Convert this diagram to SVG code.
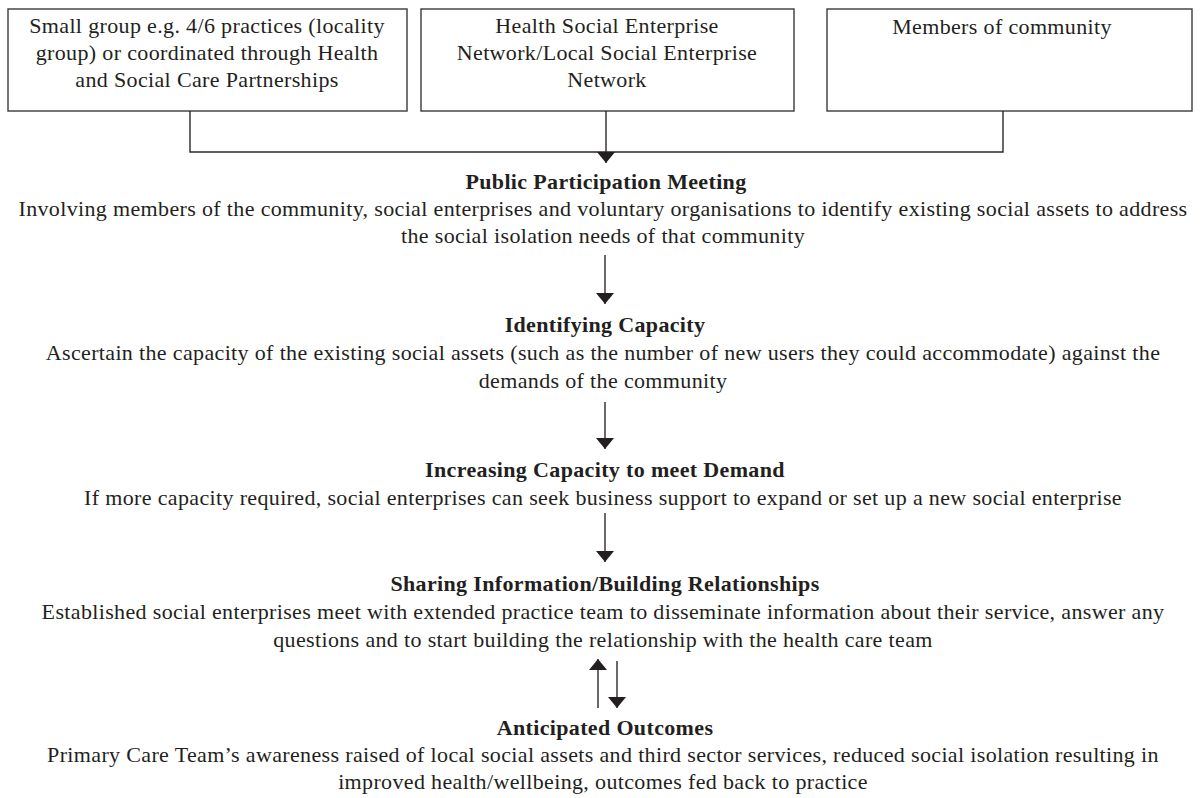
<svg xmlns="http://www.w3.org/2000/svg" width="1200" height="798" viewBox="0 0 1200 798">
  <style>
    .box { fill: #ffffff; stroke: #3a3a3a; stroke-width: 1.4; }
    .txt { font-family: "Liberation Serif", "Times New Roman", serif; font-size: 22px; letter-spacing: 0.35px; fill: #231f20; text-anchor: middle; }
    .hd { font-weight: bold; }
    .ln { fill: none; stroke: #2a2a2a; stroke-width: 1.4; }
  </style>
  <defs>
    <marker id="head" viewBox="0 0 11 18" refX="11" refY="9" markerWidth="11" markerHeight="18" markerUnits="userSpaceOnUse" orient="auto">
      <path d="M0,0 L11,9 L0,18 z" fill="#231f20"/>
    </marker>
  </defs>
  <rect width="1200" height="798" fill="#ffffff"/>

  <!-- source boxes -->
  <g id="node-locality">
    <rect class="box" x="8" y="9" width="399" height="102"/>
    <text class="txt" x="207" y="33">Small group e.g. 4/6 practices (locality</text>
    <text class="txt" x="207" y="60">group) or coordinated through Health</text>
    <text class="txt" x="207" y="87">and Social Care Partnerships</text>
  </g>
  <g id="node-network">
    <rect class="box" x="421" y="9" width="373" height="102"/>
    <text class="txt" x="607" y="33">Health Social Enterprise</text>
    <text class="txt" x="607" y="60">Network/Local Social Enterprise</text>
    <text class="txt" x="607" y="87">Network</text>
  </g>
  <g id="node-community">
    <rect class="box" x="827" y="9" width="365" height="102"/>
    <text class="txt" x="1002" y="34">Members of community</text>
  </g>

  <!-- process steps -->
  <g id="node-meeting">
    <text class="txt hd" x="606" y="189">Public Participation Meeting</text>
    <text class="txt" x="603" y="216">Involving members of the community, social enterprises and voluntary organisations to identify existing social assets to address</text>
    <text class="txt" x="603" y="243">the social isolation needs of that community</text>
  </g>
  <g id="node-capacity">
    <text class="txt hd" x="605" y="332">Identifying Capacity</text>
    <text class="txt" x="603" y="360">Ascertain the capacity of the existing social assets (such as the number of new users they could accommodate) against the</text>
    <text class="txt" x="603" y="388">demands of the community</text>
  </g>
  <g id="node-demand">
    <text class="txt hd" x="605" y="477">Increasing Capacity to meet Demand</text>
    <text class="txt" x="603" y="505">If more capacity required, social enterprises can seek business support to expand or set up a new social enterprise</text>
  </g>
  <g id="node-sharing">
    <text class="txt hd" x="605" y="591">Sharing Information/Building Relationships</text>
    <text class="txt" x="603" y="619">Established social enterprises meet with extended practice team to disseminate information about their service, answer any</text>
    <text class="txt" x="603" y="647">questions and to start building the relationship with the health care team</text>
  </g>
  <g id="node-outcomes">
    <text class="txt hd" x="605" y="735">Anticipated Outcomes</text>
    <text class="txt" x="603" y="762">Primary Care Team’s awareness raised of local social assets and third sector services, reduced social isolation resulting in</text>
    <text class="txt" x="603" y="789">improved health/wellbeing, outcomes fed back to practice</text>
  </g>

  <!-- connectors -->
  <g id="connectors">
    <path class="ln" d="M190,111 V152 H1003 V111"/>
    <path class="ln" d="M606,111 V163" marker-end="url(#head)"/>
    <path class="ln" d="M605,255 V304" marker-end="url(#head)"/>
    <path class="ln" d="M605,402 V449" marker-end="url(#head)"/>
    <path class="ln" d="M605,513 V562" marker-end="url(#head)"/>
    <path class="ln" d="M598,708 V659" marker-end="url(#head)"/>
    <path class="ln" d="M617,661 V708" marker-end="url(#head)"/>
  </g>
</svg>
